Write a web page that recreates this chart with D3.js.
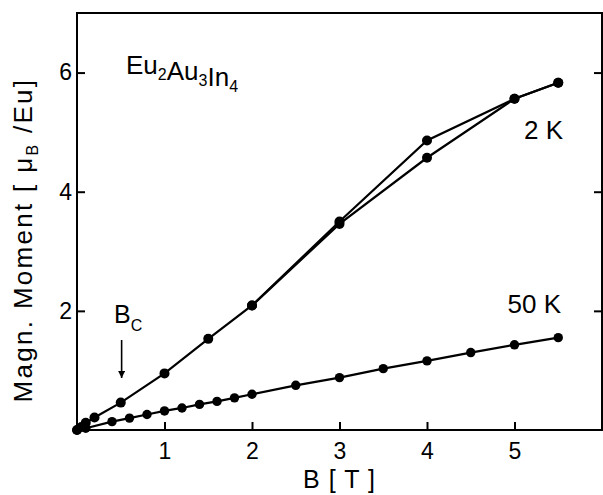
<!DOCTYPE html>
<html>
<head>
<meta charset="utf-8">
<script src="https://cdn.jsdelivr.net/npm/d3@7"></script>
<style>
  body { margin: 0; background: #fff; }
  svg { display: block; font-family: "Liberation Sans", Arial, Helvetica, sans-serif; }
</style>
</head>
<body>
<svg id="chart" width="603" height="495"></svg>
<script>
// 2 K, field increasing
const b2Up = [0, 0.05, 0.1, 0.2, 0.5, 1, 1.5, 2, 3, 4, 5, 5.5]
const m2Up = [0, 0.05, 0.12, 0.21, 0.46, 0.95, 1.53, 2.09, 3.46, 4.57, 5.56, 5.83]
// 2 K, field decreasing
const b2Down = [5.5, 5, 4, 3, 2]
const m2Down = [5.83, 5.56, 4.86, 3.50, 2.09]
// 50 K
const b50 = [0, 0.1, 0.4, 0.6, 0.8, 1.0, 1.2, 1.4, 1.6, 1.8, 2.0, 2.5, 3, 3.5, 4, 4.5, 5, 5.5]
const m50 = [0, 0.03, 0.14, 0.20, 0.26, 0.32, 0.37, 0.43, 0.48, 0.54, 0.60, 0.75, 0.88, 1.03, 1.16, 1.30, 1.43, 1.55]

const xTicks = [1, 2, 3, 4, 5]
const yTicks = [2, 4, 6]

const svg = d3.select("#chart")
const mLeft = 77, mRight = 602, mTop = 13, mBottom = 430

const x = d3.scaleLinear().domain([0, 6]).range([mLeft, mRight])
const y = d3.scaleLinear().domain([0, 7]).range([mBottom, mTop])

const zip = (bs, ms) => bs.map((b, i) => ({b: b, m: ms[i]}))
const line = d3.line().x(d => x(d.b)).y(d => y(d.m))

// frame
svg.append("rect")
  .attr("x", mLeft).attr("y", mTop)
  .attr("width", mRight - mLeft).attr("height", mBottom - mTop)
  .attr("fill", "none").attr("stroke", "#000").attr("stroke-width", 2)

// axes, ticks inward
const xAxis = svg.append("g").attr("transform", `translate(0,${mBottom})`)
  .call(d3.axisBottom(x).tickValues(xTicks).tickSize(-8).tickPadding(13).tickFormat(d3.format("d")))
const yAxis = svg.append("g").attr("transform", `translate(${mLeft},0)`)
  .call(d3.axisLeft(y).tickValues(yTicks).tickSize(-8).tickPadding(5).tickFormat(d3.format("d")))
const yAxisR = svg.append("g").attr("transform", `translate(${mRight},0)`)
  .call(d3.axisRight(y).tickValues(yTicks).tickSize(-8).tickFormat(""))

for (const g of [xAxis, yAxis, yAxisR]) {
  g.select(".domain").remove()
  g.selectAll(".tick line").attr("stroke", "#000").attr("stroke-width", 2)
  g.selectAll("text").attr("fill", "#000").style("font-size", "23px")
}

// series
const series = [
  {pts: zip(b2Up, m2Up), r: 5},
  {pts: zip(b2Down, m2Down), r: 5},
  {pts: zip(b50, m50), r: 4.7}
]
for (const s of series) {
  svg.append("path")
    .attr("d", line(s.pts))
    .attr("fill", "none").attr("stroke", "#000").attr("stroke-width", 2.2)
  svg.selectAll(null)
    .data(s.pts)
    .enter()
    .append("circle")
    .attr("cx", d => x(d.b))
    .attr("cy", d => y(d.m))
    .attr("r", s.r)
    .attr("fill", "#000")
}

// axis titles
svg.append("text")
  .attr("x", x(3)).attr("y", 488)
  .attr("text-anchor", "middle")
  .style("font-size", "25px")
  .style("letter-spacing", "1px")
  .text("B [ T ]")

const yl = svg.append("text")
  .attr("transform", `translate(32,240) rotate(-90)`)
  .attr("text-anchor", "middle")
  .style("font-size", "26px")
  .style("letter-spacing", "2.3px")
yl.append("tspan").text("Magn. Moment [ μ")
yl.append("tspan").attr("dy", 6).style("font-size", "16px").text("B")
yl.append("tspan").attr("dy", -6).text(" /Eu]")

// compound name
const name = svg.append("text").attr("x", 126).attr("y", 74).style("font-size", "26px")
const parts = [["Eu", "2"], ["Au", "3"], ["In", "4"]]
for (const p of parts) {
  name.append("tspan").text(p[0])
  name.append("tspan").attr("dy", 6).style("font-size", "16px").text(p[1])
  name.append("tspan").attr("dy", -6).text("")
}

// curve labels
svg.append("text").attr("x", 563).attr("y", 139).attr("text-anchor", "end")
  .style("font-size", "26px").text("2 K")
svg.append("text").attr("x", 561).attr("y", 313).attr("text-anchor", "end")
  .style("font-size", "26px").text("50 K")

// B_c marker
const bc = svg.append("text").attr("x", 114).attr("y", 323).style("font-size", "25px")
bc.append("tspan").text("B")
bc.append("tspan").attr("dy", 8).style("font-size", "16px").text("C")

svg.append("defs").append("marker")
  .attr("id", "arr").attr("viewBox", "0 0 10 10")
  .attr("refX", 10).attr("refY", 5)
  .attr("markerWidth", 12).attr("markerHeight", 7)
  .attr("markerUnits", "userSpaceOnUse")
  .attr("orient", "auto")
  .append("path").attr("d", "M0,0 L10,5 L0,10 z").attr("fill", "#000")
svg.append("line")
  .attr("x1", x(0.51)).attr("x2", x(0.51))
  .attr("y1", 340).attr("y2", 378)
  .attr("stroke", "#000").attr("stroke-width", 1.6)
  .attr("marker-end", "url(#arr)")
</script>
</body>
</html>
